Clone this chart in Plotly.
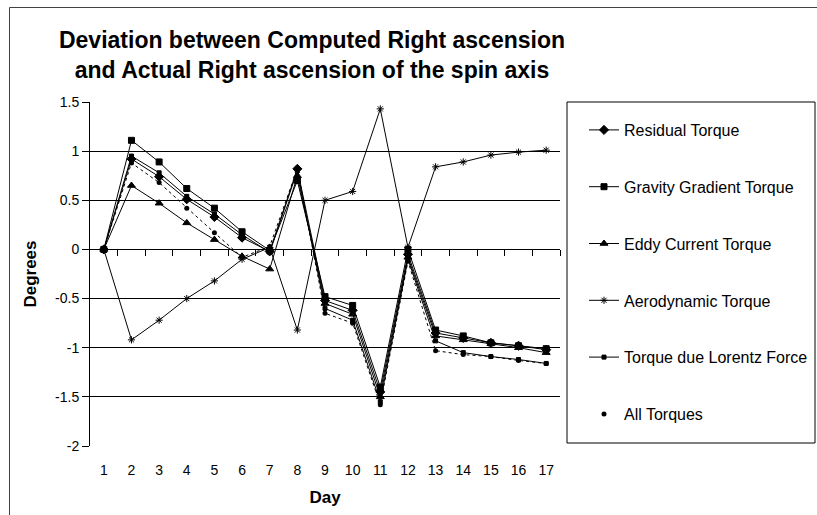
import plotly.graph_objects as go

days = list(range(1, 18))
residual = [0, 0.92, 0.74, 0.51, 0.33, 0.12, -0.02, 0.82, -0.52, -0.62, -1.45, -0.05, -0.85, -0.9, -0.95, -0.98, -1.02]
gravity = [0, 1.11, 0.89, 0.62, 0.42, 0.18, -0.01, 0.70, -0.48, -0.57, -1.40, 0.0, -0.82, -0.88, -0.95, -0.98, -1.01]
eddy = [0, 0.65, 0.47, 0.27, 0.10, -0.07, -0.20, 0.75, -0.55, -0.66, -1.50, -0.08, -0.88, -0.92, -0.96, -1.0, -1.05]
aero = [0, -0.92, -0.72, -0.50, -0.32, -0.10, 0.02, -0.82, 0.50, 0.59, 1.43, 0.02, 0.84, 0.89, 0.96, 0.99, 1.01]
lorentz = [0, 0.95, 0.78, 0.54, 0.36, 0.15, -0.03, 0.80, -0.60, -0.72, -1.55, -0.10, -0.93, -1.05, -1.09, -1.12, -1.16]
all_torques = [0, 0.88, 0.68, 0.42, 0.17, -0.08, 0.03, 0.82, -0.65, -0.75, -1.58, -0.12, -1.03, -1.07, -1.09, -1.13, -1.16]

y_ticks = [-2, -1.5, -1, -0.5, 0, 0.5, 1, 1.5]
y_tick_text = ["-2", "-1.5", "-1", "-0.5", "0", "0.5", "1", "1.5"]
grid_vals = [-1.5, -1, -0.5, 0, 0.5, 1]
boundaries = [d + 0.5 for d in days]

FONT = "Liberation Sans, Arial, sans-serif"

series = [
    ("Residual Torque", residual, "diamond", 7, "solid"),
    ("Gravity Gradient Torque", gravity, "square", 6, "solid"),
    ("Eddy Current Torque", eddy, "triangle-up", 7, "solid"),
    ("Aerodynamic Torque", aero, "asterisk-open", 6, "solid"),
    ("Torque due Lorentz Force", lorentz, "square", 4, "solid"),
]

fig = go.Figure()
for name, vals, sym, size, dash in series:
    fig.add_trace(go.Scatter(
        x=days, y=vals, name=name, mode="lines+markers",
        line=dict(color="black", width=1, dash=dash),
        marker=dict(symbol=sym, size=size, color="black", line=dict(color="black", width=1)),
        legendgroup=name,
    ))

fig.add_trace(go.Scatter(
    x=days, y=all_torques, name="All Torques", mode="lines+markers",
    line=dict(color="black", width=1, dash="dot"),
    marker=dict(symbol="circle", size=5, color="black"),
    legendgroup="All Torques", showlegend=False,
))
# legend entry for All Torques (marker only, as in the original)
fig.add_trace(go.Scatter(
    x=[None], y=[None], name="All Torques", mode="markers",
    marker=dict(symbol="circle", size=5, color="black"),
    legendgroup="All Torques", xaxis="x2", yaxis="y2",
))

L, R, T, B = 90, 560, 102, 446
W, H = 817, 515
pw, ph = R - L, B - T

def px_x(p):
    return (p - L) / pw

def px_y(p):
    return (B - p) / ph

border_path = "M {:.5f},{:.5f} L {:.5f},{:.5f} L {:.5f},{:.5f}".format(
    px_x(9.5), px_y(515), px_x(9.5), px_y(7.5), px_x(817), px_y(7.5))

fig.update_layout(
    width=W, height=H, autosize=False,
    margin=dict(l=L, r=W - R, t=T, b=H - B, autoexpand=False),
    paper_bgcolor="white", plot_bgcolor="white",
    font=dict(family=FONT, color="black", size=14),
    title=dict(
        text="Deviation between Computed Right ascension<br>and Actual Right ascension of the spin axis",
        font=dict(family=FONT, size=23, color="black", weight="bold"),
        x=312 / W, xanchor="center", xref="container",
        y=1 - 48 / H, yanchor="top", yref="container",
    ),
    xaxis=dict(
        range=[0.5, 17.5], tickvals=days, ticktext=[str(d) for d in days],
        showline=False, showgrid=False, zeroline=False, ticks="",
        ticklabelstandoff=14,
        tickfont=dict(size=14),
        title=dict(text="Day", font=dict(size=17, weight="bold"), standoff=14),
    ),
    yaxis=dict(
        range=[-2, 1.5], tickvals=y_ticks, ticktext=y_tick_text,
        showline=True, linecolor="black", linewidth=1,
        ticks="outside", ticklen=7, tickcolor="black",
        showgrid=False, zeroline=False,
        tickfont=dict(size=14),
        title=dict(text="Degrees", font=dict(size=17, weight="bold"), standoff=14),
    ),
    xaxis2=dict(
        overlaying="x", anchor="free", position=2 / 3.5,
        range=[0.5, 17.5], tickvals=boundaries, showticklabels=False,
        showline=True, linecolor="black", linewidth=1,
        ticks="outside", ticklen=6, tickcolor="black",
        showgrid=False, zeroline=False,
    ),
    yaxis2=dict(
        overlaying="y", anchor="free", position=0,
        range=[-2, 1.5], tickvals=grid_vals, showticklabels=False,
        showgrid=True, gridcolor="black", gridwidth=1,
        showline=False, zeroline=False, ticks="",
    ),
    legend=dict(
        x=px_x(584), xanchor="left", y=px_y(113), yanchor="top",
        bgcolor="rgba(0,0,0,0)", borderwidth=0,
        font=dict(size=16),
        traceorder="grouped", tracegroupgap=33,
    ),
    showlegend=True,
    shapes=[
        dict(type="rect", xref="paper", yref="paper",
             x0=px_x(567), x1=px_x(815), y0=px_y(443), y1=px_y(102),
             line=dict(color="black", width=1)),
        dict(type="path", xref="paper", yref="paper", path=border_path,
             line=dict(color="#404040", width=1)),
    ],
)

fig.write_html(
    "out.html",
    config={"displayModeBar": False, "responsive": False},
    post_script="document.body.style.margin='0';document.body.style.padding='0';document.body.style.overflow='hidden';",
)
